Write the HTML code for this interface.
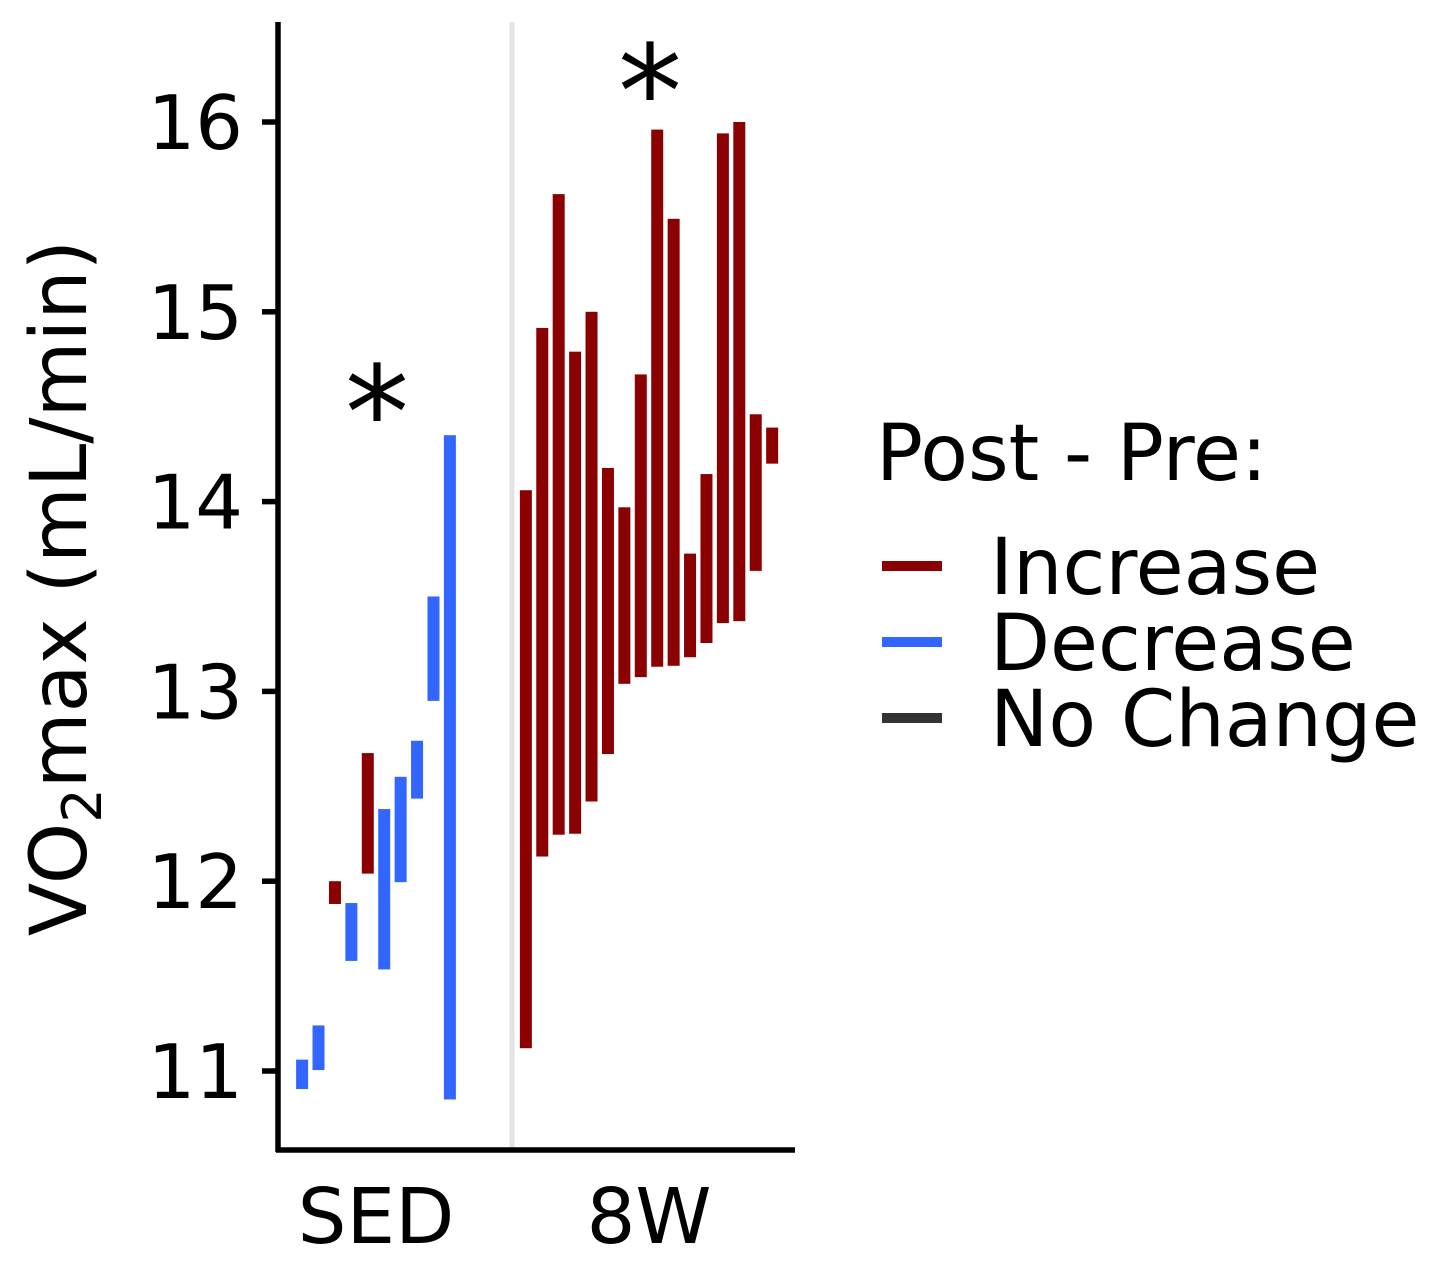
<!DOCTYPE html>
<html><head><meta charset="utf-8"><style>
html,body{margin:0;padding:0;background:#fff;}
svg{display:block;font-family:"DejaVu Sans","Liberation Sans",sans-serif;}
</style></head><body>
<svg id="chart" width="1440" height="1280" viewBox="0 0 1440 1280" xmlns="http://www.w3.org/2000/svg">
<g id="plot"></g>
</svg>
<script>
const sedPre  = [11.06, 11.24, 11.88, 11.885, 12.04, 12.38, 12.55, 12.74, 13.50, 14.35];
const sedPost = [10.905, 11.005, 12.0, 11.58, 12.675, 11.535, 11.995, 12.435, 12.95, 10.85];
const w8Pre   = [11.12, 12.13, 12.245, 12.25, 12.42, 12.67, 13.04, 13.075, 13.13, 13.135, 13.18, 13.255, 13.36, 13.37, 13.635, 14.2];
const w8Post  = [14.06, 14.915, 15.62, 14.79, 15.0, 14.177, 13.97, 14.67, 15.96, 15.49, 13.726, 14.145, 15.94, 16.0, 14.46, 14.39];
const yTicks  = [11, 12, 13, 14, 15, 16];
const groups  = ["SED", "8W"];

const NS = "http://www.w3.org/2000/svg";
const g = document.getElementById('plot');
function y(v){ return 122 + (16 - v) * 189.8; }
function mk(tag, attrs, parent){ const e=document.createElementNS(NS,tag); for(const k in attrs) e.setAttribute(k, attrs[k]); (parent||g).appendChild(e); return e; }
const groupCenter = [376, 649];
const step = 16.42;
function bx(gi, i, n){ return groupCenter[gi] + (i - (n-1)/2) * step; }

let sep = mk('line',{x1:512,x2:512,y1:22,y2:1150,stroke:'#e3e3e3','stroke-width':5});



function drawBars(pre, post, gi){
  const n = pre.length;
  for(let i=0;i<n;i++){
    const a=pre[i], b=post[i];
    const col = b>a ? '#8b0000' : (b<a ? '#3366ff' : '#333333');
    const r = mk('rect',{x:bx(gi,i,n)-6, y:y(Math.max(a,b)), width:12, height:Math.abs(y(a)-y(b)), fill:col});
    
    
  }
}
drawBars(sedPre, sedPost, 0);
drawBars(w8Pre, w8Post, 1);

let ya = mk('line',{x1:278,x2:278,y1:22,y2:1152,stroke:'#000','stroke-width':5.5});


let xa = mk('line',{x1:276,x2:795,y1:1150,y2:1150,stroke:'#000','stroke-width':5.5});



yTicks.forEach(t=>{
  const tk = mk('line',{x1:262,x2:278,y1:y(t),y2:y(t),stroke:'#000','stroke-width':5.5});
  
  
  const tl = mk('text',{x:243,y:y(t)+27,'text-anchor':'end','font-size':75,fill:'#000'});
  tl.textContent = t;
  
  
});
groups.forEach((lab,gi)=>{
  const tl = mk('text',{x:groupCenter[gi],y:1243,'text-anchor':'middle','font-size':77,fill:'#000'});
  tl.textContent = lab;
  
  
});

[[377,458],[650,137]].forEach((p,i)=>{
  const s = mk('text',{x:p[0],y:p[1],'text-anchor':'middle','font-size':128,fill:'#000'});
  s.textContent='*';
  
  
});

const yt = mk('text',{transform:'translate(86,588) rotate(-90)','text-anchor':'middle','font-size':78,fill:'#000'});


yt.innerHTML = 'VO<tspan font-size="54" dy="15">2</tspan><tspan dy="-15">max (mL/min)</tspan>';

const lt = mk('text',{x:876,y:480,'font-size':78,fill:'#000'});
lt.textContent='Post - Pre:';


const legItems=[['Increase','#8b0000',566],['Decrease','#3366ff',642],['No Change','#333333',718]];
legItems.forEach(it=>{
  const l = mk('line',{x1:882,x2:942,y1:it[2],y2:it[2],stroke:it[1],'stroke-width':10});
  
  
  const t = mk('text',{x:990,y:it[2]+28,'font-size':78,fill:'#000'});
  t.textContent=it[0];
  
  
});
</script>
</body></html>
